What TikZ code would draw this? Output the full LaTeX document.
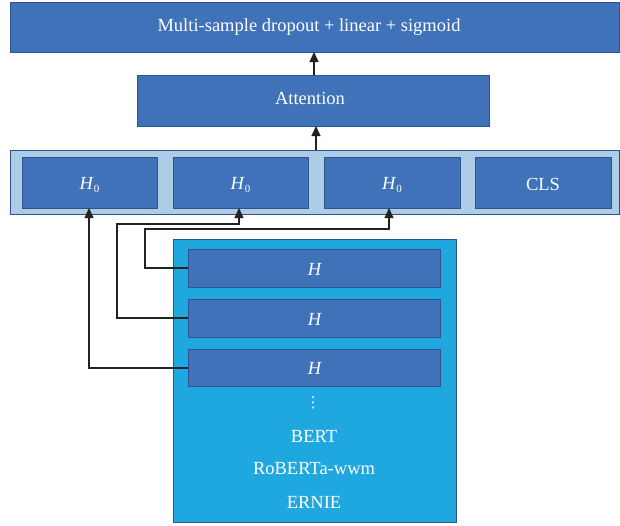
\documentclass[tikz,border=0pt]{standalone}
\usepackage{fontspec}
\setmainfont{Liberation Serif}
\newfontfamily\dvs{DejaVu Sans}
\usetikzlibrary{arrows.meta}
\definecolor{dblue}{HTML}{3F72B8}
\definecolor{bdr}{HTML}{2F5290}
\definecolor{lrow}{HTML}{ADCDE6}
\definecolor{cyanbox}{HTML}{1FA8DF}
\definecolor{lnk}{HTML}{222222}
\newcommand{\Hz}{\textit{H}\raisebox{-0.45ex}{\fontsize{11}{13}\selectfont 0}}
\begin{document}
\begin{tikzpicture}[x=1pt,y=-1pt,
  blk/.style={draw=bdr,line width=1pt,fill=dblue},
  conn/.style={draw=lnk,line width=1.3pt,-{Triangle[length=10pt,width=9pt]}},
  lbl/.style={text=white,font=\fontsize{18.5}{22}\selectfont}]
\useasboundingbox (0,0) rectangle (620,525);
% top
\draw[blk] (10,2) rectangle (619,52);
\node[lbl] (top) at (309,27) {Multi-sample dropout + linear + sigmoid};
\coordinate (topb) at (314,52);
% attention
\draw[blk] (137,75) rectangle (489,126);
\node[lbl] (att) at (310,98) {Attention};
\coordinate (attt) at (314,75);
\coordinate (attb) at (316,126);
% row
\draw[draw=bdr,line width=1pt,fill=lrow] (10,150) rectangle (619,214);
\coordinate (rowt) at (316,150);
\draw[blk] (22,157) rectangle (157,208);
\node[lbl] (h01) at (89.5,185) {\Hz};
\draw[blk] (173,157) rectangle (308,208);
\node[lbl] (h02) at (240.5,185) {\Hz};
\draw[blk] (324,157) rectangle (460,208);
\node[lbl] (h03) at (392,185) {\Hz};
\draw[blk] (475,157) rectangle (611,208);
\node[lbl] (cls) at (543,184) {CLS};
\coordinate (h01b) at (89,208);
\coordinate (h02b) at (239,208);
\coordinate (h03b) at (389,208);
% big box
\draw[draw=bdr,line width=1pt,fill=cyanbox] (173,239) rectangle (456,522);
\draw[blk] (188,249) rectangle (440,287);
\node[lbl] (ha) at (315,269) {\textit{H}};
\draw[blk] (188,299) rectangle (440,337);
\node[lbl] (hb) at (315,319) {\textit{H}};
\draw[blk] (188,349) rectangle (440,386);
\node[lbl] (hc) at (315,368) {\textit{H}};
\coordinate (hal) at (188,268);
\coordinate (hbl) at (188,318);
\coordinate (hcl) at (188,368);
\node[lbl] (dots) at (313,403) {\dvs\fontsize{15}{18}\selectfont ⋮};
\node[lbl] (bert) at (314,436) {BERT};
\node[lbl] (rob) at (314,469) {RoBERTa-wwm};
\node[lbl] (ernie) at (314,502) {ERNIE};
% connectors
\draw[conn] (attt) -- (topb);
\draw[conn] (rowt) -- (attb);
\draw[conn] (hal) -- (145,268) -- (145,229) -- (389,229) -- (h03b);
\draw[conn] (hbl) -- (117,318) -- (117,224) -- (239,224) -- (h02b);
\draw[conn] (hcl) -- (89,368) -- (h01b);
\end{tikzpicture}
\end{document}
